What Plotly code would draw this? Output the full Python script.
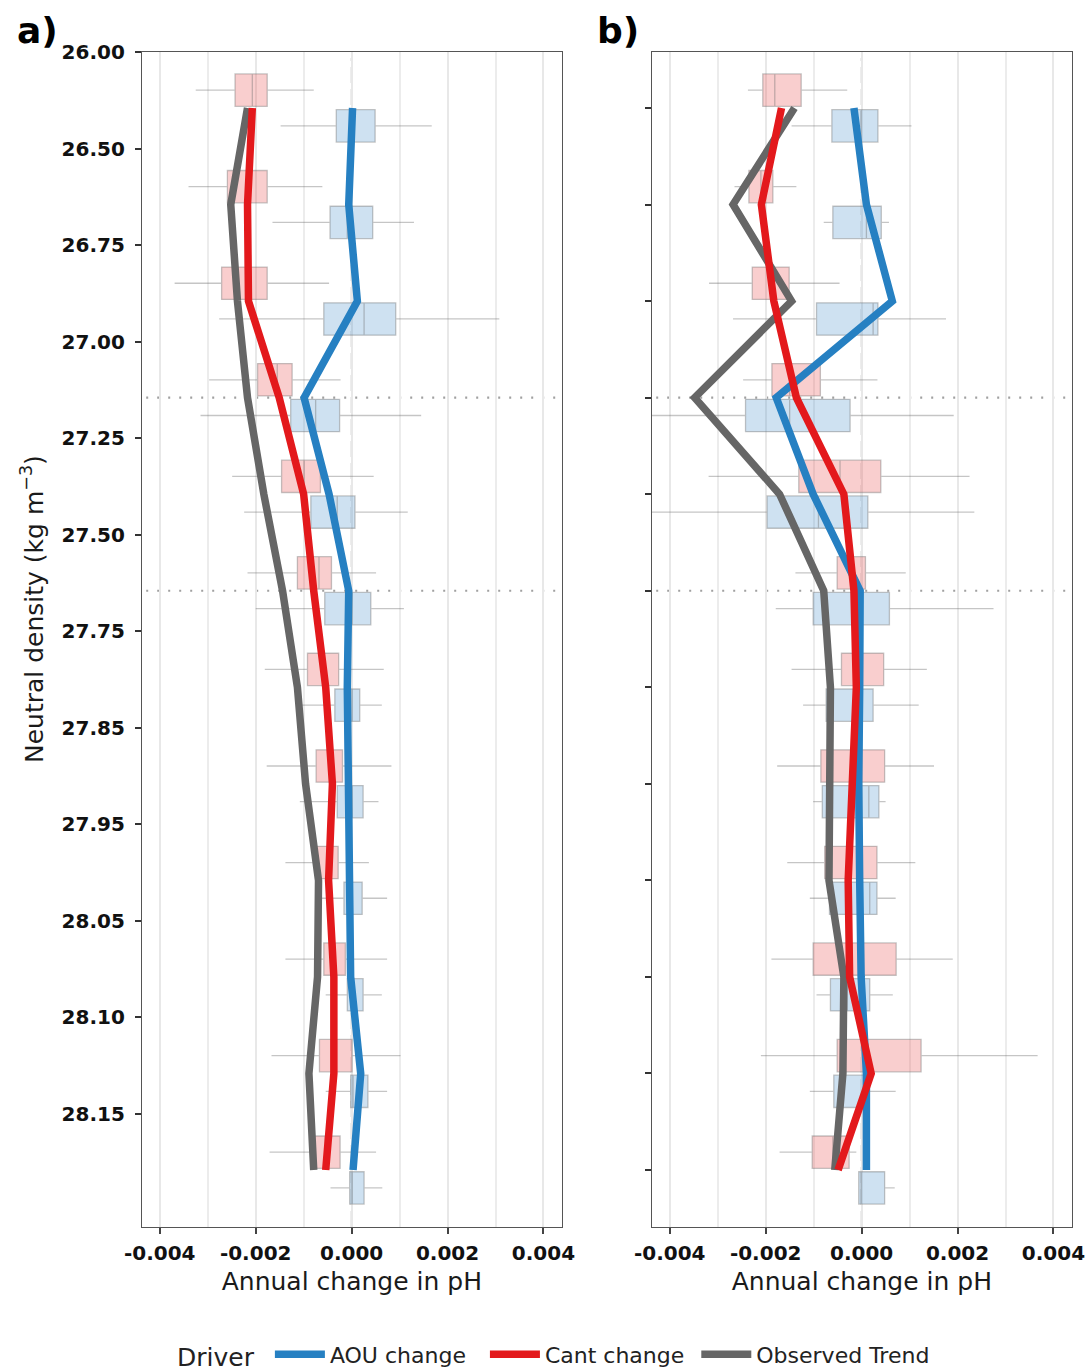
import plotly.graph_objects as go

# ---- density layers (row index from the top) and axis labels ----
layers = list(range(12))
density_labels = ["26.00", "26.50", "26.75", "27.00", "27.25", "27.50",
                  "27.75", "27.85", "27.95", "28.05", "28.10", "28.15"]
boundary_layers = [3, 5]          # dotted water-mass boundaries
x_ticks = [-0.004, -0.002, 0.0, 0.002, 0.004]
x_tick_text = ["-0.004", "-0.002", "0.000", "0.002", "0.004"]

# ---- panel a: trend lines ----
a_obs = [-0.00217, -0.00252, -0.00238, -0.00217, -0.00183, -0.00144,
         -0.00113, -0.00096, -0.00069, -0.00071, -0.00089, -0.00079]
a_cant = [-0.00207, -0.00217, -0.00215, -0.00151, -0.00100, -0.00079,
          -0.00054, -0.00040, -0.00048, -0.00037, -0.00037, -0.00054]
a_aou = [0.00002, -0.00006, 0.00012, -0.00099, -0.00047, -0.00006,
         -0.00009, -0.00006, -0.00004, -0.00002, 0.00019, 0.00003]

# ---- panel a: box statistics ----
a_cant_q1 = [-0.00243, -0.00259, -0.00271, -0.00196, -0.00146, -0.00113,
             -0.00092, -0.00074, -0.00075, -0.00058, -0.00067, -0.00082]
a_cant_med = [-0.00207, -0.00215, -0.00215, -0.00155, -0.00099, -0.00068,
              -0.00060, -0.00045, -0.00050, -0.00035, -0.00035, -0.00055]
a_cant_q3 = [-0.00176, -0.00176, -0.00176, -0.00124, -0.00065, -0.00042,
             -0.00027, -0.00019, -0.00028, -0.00013, 0.00001, -0.00024]
a_cant_lo = [-0.00325, -0.00340, -0.00369, -0.00297, -0.00249, -0.00217,
             -0.00181, -0.00177, -0.00138, -0.00138, -0.00167, -0.00171]
a_cant_hi = [-0.00079, -0.00061, -0.00047, -0.00023, 0.00046, 0.00051,
             0.00067, 0.00083, 0.00036, 0.00074, 0.00102, 0.00051]

a_aou_q1 = [-0.00032, -0.00045, -0.00058, -0.00127, -0.00085, -0.00056,
            -0.00035, -0.00030, -0.00016, -0.00009, -0.00002, -0.00004]
a_aou_med = [0.00001, -0.00009, 0.00026, -0.00075, -0.00030, 0.00001,
             0.00001, 0.00001, 0.00001, -0.00001, 0.00003, 0.00001]
a_aou_q3 = [0.00049, 0.00044, 0.00092, -0.00025, 0.00007, 0.00040,
            0.00017, 0.00024, 0.00022, 0.00024, 0.00034, 0.00026]
a_aou_lo = [-0.00148, -0.00165, -0.00276, -0.00315, -0.00224, -0.00200,
            -0.00106, -0.00108, -0.00068, -0.00054, -0.00054, -0.00044]
a_aou_hi = [0.00167, 0.00130, 0.00308, 0.00145, 0.00117, 0.00109,
            0.00063, 0.00056, 0.00074, 0.00063, 0.00074, 0.00064]

# ---- panel b: trend lines ----
b_obs = [-0.00140, -0.00268, -0.00146, -0.00348, -0.00171, -0.00079,
         -0.00065, -0.00067, -0.00068, -0.00037, -0.00039, -0.00056]
b_cant = [-0.00167, -0.00209, -0.00183, -0.00136, -0.00037, -0.00016,
          -0.00011, -0.00018, -0.00028, -0.00025, 0.00020, -0.00049]
b_aou = [-0.00016, 0.00010, 0.00064, -0.00178, -0.00101, -0.00003,
         -0.00004, -0.00006, -0.00004, -0.00001, 0.00010, 0.00010]

# ---- panel b: box statistics ----
b_cant_q1 = [-0.00206, -0.00235, -0.00228, -0.00187, -0.00131, -0.00051,
             -0.00042, -0.00085, -0.00077, -0.00101, -0.00051, -0.00103]
b_cant_med = [-0.00181, -0.00210, -0.00190, -0.00150, -0.00045, -0.00020,
              0.00000, -0.00015, -0.00030, -0.00020, -0.00040, -0.00060]
b_cant_q3 = [-0.00126, -0.00185, -0.00151, -0.00086, 0.00040, 0.00008,
             0.00046, 0.00048, 0.00032, 0.00072, 0.00124, -0.00026]
b_cant_lo = [-0.00237, -0.00265, -0.00318, -0.00247, -0.00319, -0.00138,
             -0.00146, -0.00176, -0.00155, -0.00188, -0.00210, -0.00171]
b_cant_hi = [-0.00030, -0.00136, -0.00046, 0.00033, 0.00225, 0.00092,
             0.00136, 0.00151, 0.00112, 0.00190, 0.00367, -0.00011]

b_aou_q1 = [-0.00062, -0.00060, -0.00094, -0.00242, -0.00197, -0.00101,
            -0.00074, -0.00082, -0.00067, -0.00065, -0.00058, -0.00006]
b_aou_med = [-0.00001, 0.00010, 0.00024, -0.00150, -0.00090, -0.00001,
             -0.00001, 0.00015, 0.00017, -0.00030, -0.00040, -0.00001]
b_aou_q3 = [0.00034, 0.00041, 0.00034, -0.00024, 0.00013, 0.00058,
            0.00024, 0.00036, 0.00032, 0.00017, 0.00013, 0.00048]
b_aou_lo = [-0.00146, -0.00079, -0.00268, -0.00440, -0.00440, -0.00179,
            -0.00122, -0.00101, -0.00108, -0.00094, -0.00108, -0.00006]
b_aou_hi = [0.00104, 0.00057, 0.00176, 0.00192, 0.00235, 0.00275,
            0.00119, 0.00050, 0.00071, 0.00065, 0.00071, 0.00069]

# ---- styling ----
FONT = "DejaVu Sans"
RED, BLUE, GREY = "#E3191C", "#2680C2", "#666666"
RED_FILL, BLUE_FILL = "rgba(232,60,60,0.25)", "rgba(60,135,200,0.25)"
BOX_LINE = "rgba(110,110,110,0.40)"
BOX_W = 0.335
DODGE = 0.185
XR = [-0.00437, 0.00438]
YR = [11.59, -0.58]

W, H = 1091, 1372
def px_x(p):
    return p / W
def px_y(p):
    return 1 - p / H

fig = go.Figure()


def add_boxes(q1, med, q3, lo, hi, shift, fill, xa, ya):
    fig.add_trace(go.Box(
        y=[l + shift for l in layers], q1=q1, median=med, q3=q3,
        lowerfence=lo, upperfence=hi, orientation="h", width=BOX_W,
        fillcolor=fill, line=dict(color=BOX_LINE, width=1.3),
        whiskerwidth=0, boxpoints=False, showlegend=False,
        hoverinfo="skip", xaxis=xa, yaxis=ya))


def add_line(vals, color, name, rank, show, xa, ya):
    fig.add_trace(go.Scatter(
        x=vals, y=layers, mode="lines", name=name,
        line=dict(color=color, width=7.5), showlegend=show,
        legendrank=rank, xaxis=xa, yaxis=ya))


for xa, ya, boxes, lines, show in [
    ("x", "y",
     [(a_cant_q1, a_cant_med, a_cant_q3, a_cant_lo, a_cant_hi, -DODGE, RED_FILL),
      (a_aou_q1, a_aou_med, a_aou_q3, a_aou_lo, a_aou_hi, DODGE, BLUE_FILL)],
     (a_obs, a_aou, a_cant), True),
    ("x2", "y2",
     [(b_cant_q1, b_cant_med, b_cant_q3, b_cant_lo, b_cant_hi, -DODGE, RED_FILL),
      (b_aou_q1, b_aou_med, b_aou_q3, b_aou_lo, b_aou_hi, DODGE, BLUE_FILL)],
     (b_obs, b_aou, b_cant), False),
]:
    for q1, med, q3, lo, hi, shift, fill in boxes:
        add_boxes(q1, med, q3, lo, hi, shift, fill, xa, ya)
    obs, aou, cant = lines
    add_line(obs, GREY, "Observed Trend", 3, show, xa, ya)
    # trailing non-breaking spaces widen the gap between legend entries
    add_line(aou, BLUE, "AOU change\u00a0\u00a0", 1, show, xa, ya)
    add_line(cant, RED, "Cant change\u00a0", 2, show, xa, ya)

# reference lines: zero line and density boundaries
shapes = []
for xr, yr in [("x", "y"), ("x2", "y2")]:
    shapes.append(dict(type="line", xref=xr, yref=yr + " domain", x0=0, x1=0,
                       y0=0, y1=0.995, line=dict(color="#808080", width=1.5,
                                                 dash="16px,6px"), layer="below"))
    for b in boundary_layers:
        shapes.append(dict(type="line", xref=xr + " domain", yref=yr, x0=0.01, x1=1,
                           y0=b, y1=b, line=dict(color="#a0a0a0", width=2.2,
                                                  dash="2px,9px"), layer="below"))

xaxis_common = dict(
    range=XR, tickvals=x_ticks, ticktext=x_tick_text,
    tickfont=dict(family=FONT, size=20, color="#111111", weight="bold"),
    ticks="outside", ticklen=6, tickwidth=1.5, tickcolor="#444444",
    ticklabelstandoff=2,
    showgrid=True, gridcolor="#e8e8e8", gridwidth=1.5, zeroline=False,
    minor=dict(tickvals=[-0.003, -0.001, 0.001, 0.003], showgrid=True,
               gridcolor="#ececec", gridwidth=1.5, ticklen=0),
    showline=True, linecolor="#555555", linewidth=1.3, mirror=True,
    title=dict(text="Annual change in pH", standoff=8,
               font=dict(family=FONT, size=25, color="#1a1a1a")),
    automargin=False,
)
yaxis_common = dict(
    range=YR, showgrid=False, zeroline=False, ticks="outside", ticklen=6,
    tickwidth=1.5, tickcolor="#333333", showline=True, linecolor="#555555",
    linewidth=1.3, mirror=True, automargin=False,
)

fig.update_layout(
    width=W, height=H, margin=dict(l=0, r=0, t=0, b=0, autoexpand=False),
    paper_bgcolor="white", plot_bgcolor="white",
    font=dict(family=FONT, color="#1a1a1a"),
    boxmode="overlay",
    xaxis=dict(domain=[px_x(142), px_x(561.7)], anchor="y", **xaxis_common),
    xaxis2=dict(domain=[px_x(652), px_x(1071.7)], anchor="y2", **xaxis_common),
    yaxis=dict(domain=[px_y(1227), px_y(52)], anchor="x",
               tickvals=[l - 0.58 for l in layers], ticktext=density_labels,
               tickfont=dict(family=FONT, size=20, color="#111111", weight="bold"),
               ticklabelstandoff=6, **yaxis_common),
    yaxis2=dict(domain=[px_y(1227), px_y(52)], anchor="x2",
                tickvals=layers, showticklabels=False, **yaxis_common),
    shapes=shapes,
    legend=dict(orientation="h", x=px_x(175), xanchor="left", y=px_y(1355),
                yanchor="middle", bgcolor="rgba(0,0,0,0)",
                font=dict(family=FONT, size=22, color="#222222"),
                title=dict(text="Driver ", side="left",
                           font=dict(family=FONT, size=25, color="#222222")),
                itemwidth=50, traceorder="normal"),
    annotations=[
        dict(text="<b>a)</b>", x=px_x(15), y=px_y(31), xref="paper", yref="paper",
             xanchor="left", yanchor="middle", showarrow=False,
             font=dict(family=FONT, size=36, color="#000000")),
        dict(text="<b>b)</b>", x=px_x(595), y=px_y(31), xref="paper", yref="paper",
             xanchor="left", yanchor="middle", showarrow=False,
             font=dict(family=FONT, size=36, color="#000000")),
        dict(text="Neutral density (kg m<sup>\u22123</sup>)", x=px_x(32), y=px_y(609),
             xref="paper", yref="paper", xanchor="center", yanchor="middle",
             textangle=-90, showarrow=False,
             font=dict(family=FONT, size=25, color="#1a1a1a")),
    ],
)

fig.write_html("out.html")
